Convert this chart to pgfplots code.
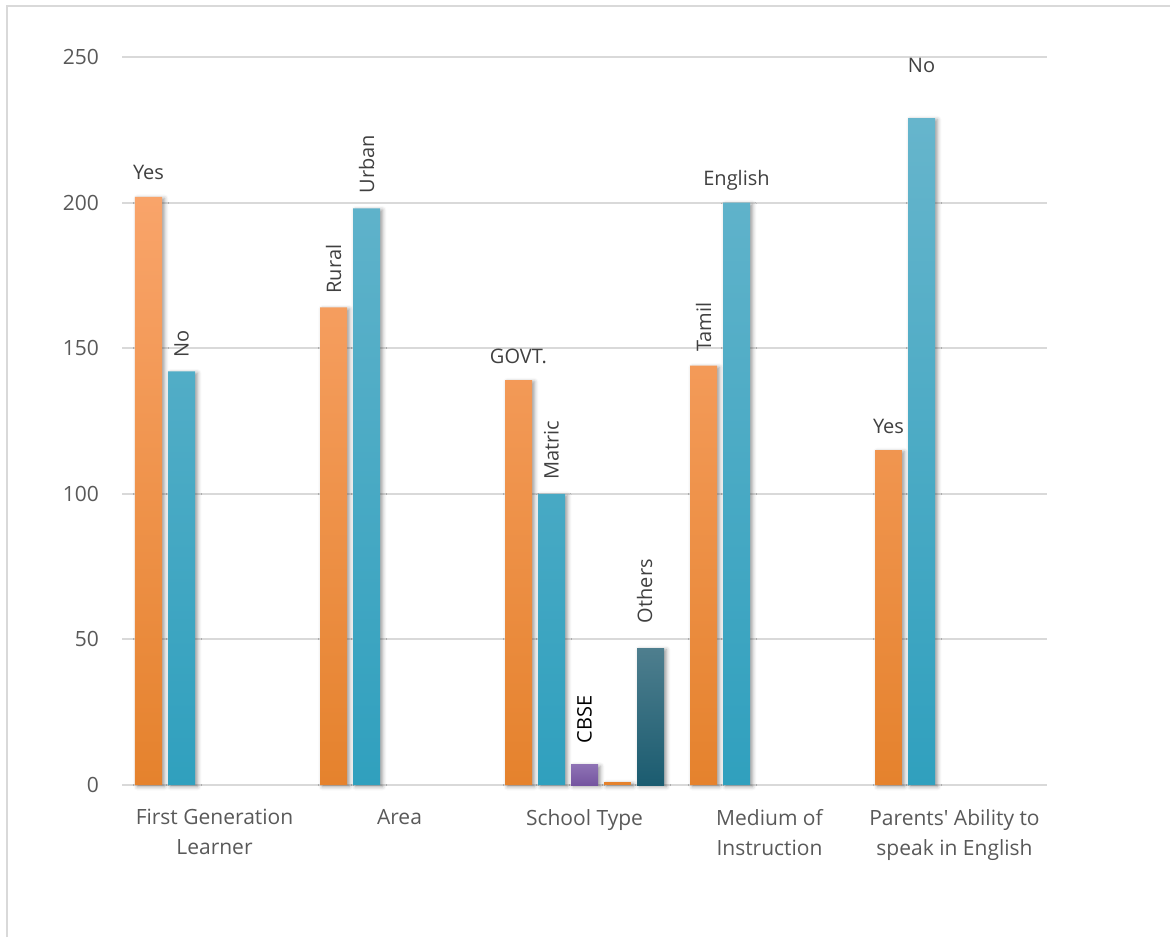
\documentclass[border=0pt]{standalone}
\usepackage{pgfplots}
\pgfplotsset{compat=1.18}
\usepackage{fontspec}
\setmainfont{Open Sans}
\usetikzlibrary{shadows.blur}

\definecolor{orT}{HTML}{F9A46A}
\definecolor{orB}{HTML}{E5822D}
\definecolor{blT}{HTML}{66B5CC}
\definecolor{blB}{HTML}{30A0BE}
\definecolor{puT}{HTML}{8E72B4}
\definecolor{puB}{HTML}{7555A0}
\definecolor{teT}{HTML}{4E7E8E}
\definecolor{teB}{HTML}{1B5C70}
\definecolor{gridc}{HTML}{D9D9D9}
\definecolor{txt}{HTML}{595959}
\definecolor{lab}{HTML}{404040}

\begin{document}
\begin{tikzpicture}[x=1pt,y=1pt]
\useasboundingbox (0,0) rectangle (585,468.5);
\draw[gridc, line width=1pt] (3.5,0) -- (3.5,465.5) -- (585,465.5);
\begin{axis}[
    at={(61pt,76pt)}, anchor=south west,
    scale only axis, width=462.5pt, height=364pt,
    xmin=-0.5, xmax=4.5, ymin=0, ymax=250,
    ybar, bar width=13.5pt,
    ytick={0,50,100,150,200,250},
    xtick={0,1,2,3,4},
    xticklabels={First Generation\\Learner, Area, School Type, Medium of\\Instruction, Parents\textquotesingle{} Ability to\\speak in English},
    axis line style={draw=none},
    major tick length=0pt,
    ymajorgrids=true,
    grid style={gridc, line width=1pt},
    tick label style={font=\fontsize{10.5}{15}\selectfont, text=txt},
    xticklabel style={align=center, yshift=-8.5pt},
    yticklabel style={xshift=-8pt},
    /pgf/number format/assume math mode=true,
    clip=false,
    every axis plot/.append style={draw=none, blur shadow={shadow xshift=1.2pt, shadow yshift=-0.8pt, shadow blur radius=2pt, shadow opacity=40}},
    lab/.style={font=\fontsize{10.5}{12}\selectfont, text=lab, inner sep=0pt},
]

% first series (Yes / Rural / GOVT. / Tamil / Yes)
\addplot[bar shift=-33pt, top color=orT, bottom color=orB]
    coordinates {(0,202)(1,164)(2,139)(3,144)(4,115)};
% second series (No / Urban / Matric / English / No)
\addplot[bar shift=-16.5pt, top color=blT, bottom color=blB]
    coordinates {(0,142)(1,198)(2,100)(3,200)(4,229)};
% CBSE
\addplot[bar shift=0pt, top color=puT, bottom color=puB]
    coordinates {(2,7)};
% unlabeled
\addplot[bar shift=16.5pt, fill=orB]
    coordinates {(2,1)};
% Others
\addplot[bar shift=33pt, top color=teT, bottom color=teB]
    coordinates {(2,47)};

\node[lab, xshift=-33pt, yshift=8.5pt, anchor=base] at (axis cs:0,202) {Yes};
\node[lab, xshift=-16.5pt, yshift=3.5pt, rotate=90, anchor=west] at (axis cs:0,142) {No};
\node[lab, xshift=-33pt, yshift=3.5pt, rotate=90, anchor=west] at (axis cs:1,164) {Rural};
\node[lab, xshift=-16.5pt, yshift=4pt, rotate=90, anchor=west] at (axis cs:1,198) {Urban};
\node[lab, xshift=-33pt, yshift=8.5pt, anchor=base] at (axis cs:2,139) {GOVT.};
\node[lab, xshift=-16.5pt, yshift=3.5pt, rotate=90, anchor=west] at (axis cs:2,100) {Matric};
\node[lab, text=black, xshift=0pt, yshift=7pt, rotate=90, anchor=west] at (axis cs:2,7) {CBSE};
\node[lab, xshift=30pt, yshift=9pt, rotate=90, anchor=west] at (axis cs:2,47) {Others};
\node[lab, xshift=-33pt, yshift=3.5pt, rotate=90, anchor=west] at (axis cs:3,144) {Tamil};
\node[lab, xshift=-16.5pt, yshift=8.5pt, anchor=base] at (axis cs:3,200) {English};
\node[lab, xshift=-33pt, yshift=8.5pt, anchor=base] at (axis cs:4,115) {Yes};
\node[lab, xshift=-16.5pt, yshift=23pt, anchor=base] at (axis cs:4,229) {No};

\end{axis}
\end{tikzpicture}
\end{document}
